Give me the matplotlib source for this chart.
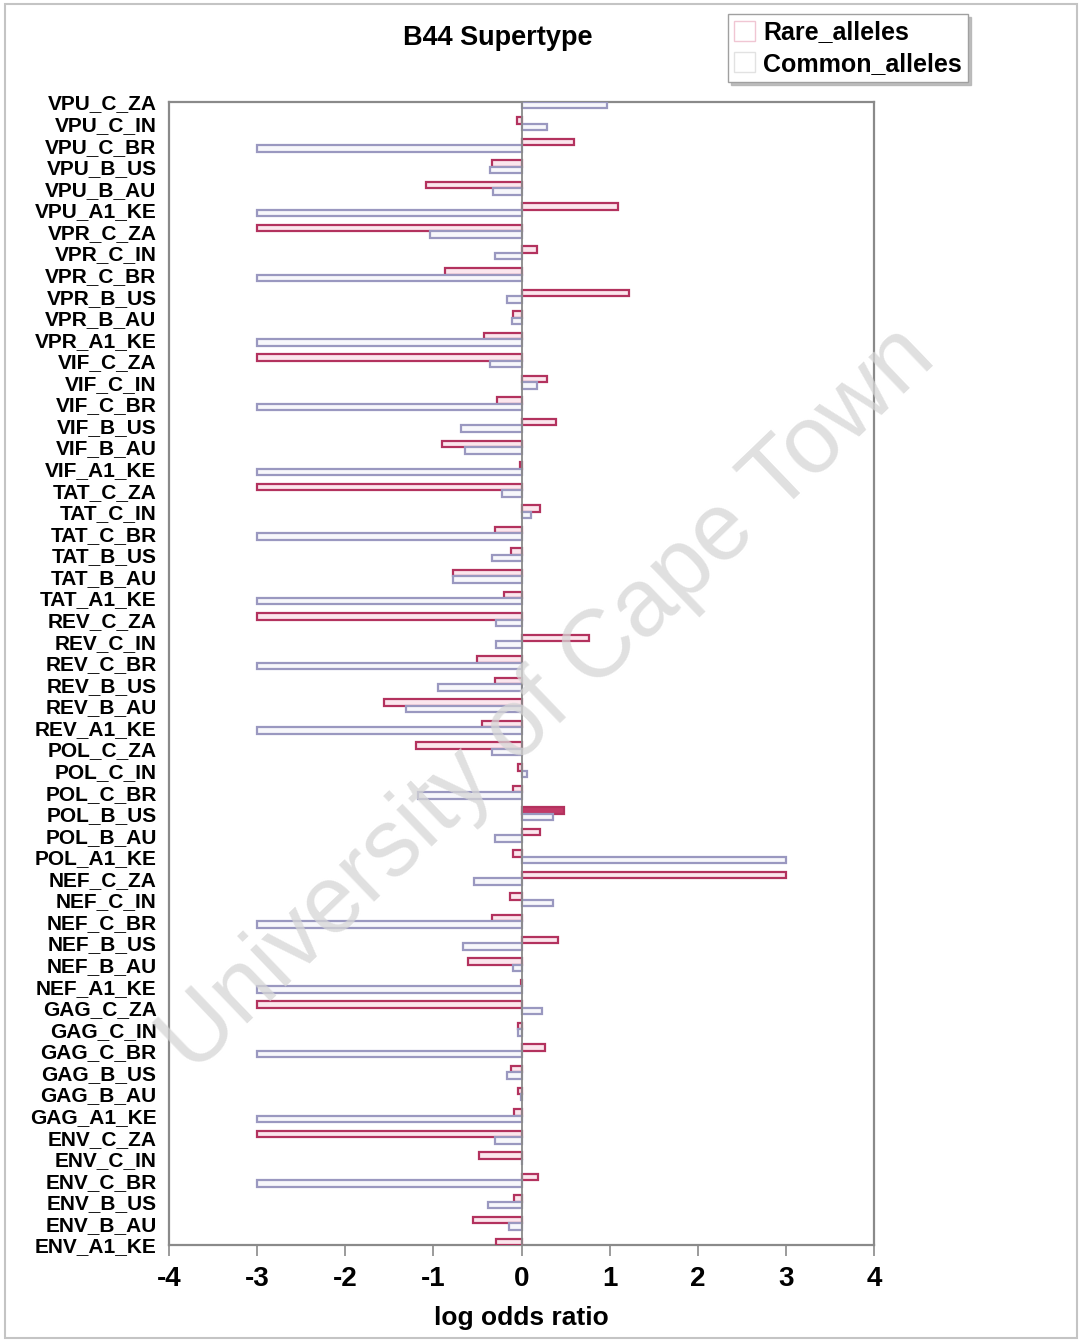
import matplotlib
matplotlib.use("Agg")
import matplotlib.pyplot as plt
from matplotlib.patches import Patch, Rectangle
import numpy as np

plt.rcParams['font.family'] = ['Liberation Sans', 'DejaVu Sans']
plt.rcParams['font.weight'] = 'bold'

categories = [
    "VPU_C_ZA", "VPU_C_IN", "VPU_C_BR", "VPU_B_US", "VPU_B_AU", "VPU_A1_KE",
    "VPR_C_ZA", "VPR_C_IN", "VPR_C_BR", "VPR_B_US", "VPR_B_AU", "VPR_A1_KE",
    "VIF_C_ZA", "VIF_C_IN", "VIF_C_BR", "VIF_B_US", "VIF_B_AU", "VIF_A1_KE",
    "TAT_C_ZA", "TAT_C_IN", "TAT_C_BR", "TAT_B_US", "TAT_B_AU", "TAT_A1_KE",
    "REV_C_ZA", "REV_C_IN", "REV_C_BR", "REV_B_US", "REV_B_AU", "REV_A1_KE",
    "POL_C_ZA", "POL_C_IN", "POL_C_BR", "POL_B_US", "POL_B_AU", "POL_A1_KE",
    "NEF_C_ZA", "NEF_C_IN", "NEF_C_BR", "NEF_B_US", "NEF_B_AU", "NEF_A1_KE",
    "GAG_C_ZA", "GAG_C_IN", "GAG_C_BR", "GAG_B_US", "GAG_B_AU", "GAG_A1_KE",
    "ENV_C_ZA", "ENV_C_IN", "ENV_C_BR", "ENV_B_US", "ENV_B_AU", "ENV_A1_KE",
]

rare_alleles = [
    0.00, -0.05, 0.60, -0.34, -1.08, 1.10,
    -3.00, 0.18, -0.87, 1.22, -0.10, -0.43,
    -3.00, 0.29, -0.28, 0.39, -0.90, -0.02,
    -3.00, 0.21, -0.30, -0.12, -0.78, -0.20,
    -3.00, 0.76, -0.51, -0.30, -1.56, -0.45,
    -1.20, -0.04, -0.10, 0.48, 0.21, -0.10,
    3.00, -0.13, -0.33, 0.41, -0.61, -0.01,
    -3.00, -0.04, 0.27, -0.12, -0.04, -0.08,
    -3.00, -0.48, 0.19, -0.08, -0.55, -0.29,
]

common_alleles = [
    0.97, 0.29, -3.00, -0.36, -0.32, -3.00,
    -1.04, -0.30, -3.00, -0.17, -0.11, -3.00,
    -0.36, 0.17, -3.00, -0.69, -0.64, -3.00,
    -0.22, 0.11, -3.00, -0.33, -0.78, -3.00,
    -0.29, -0.29, -3.00, -0.95, -1.31, -3.00,
    -0.34, 0.06, -1.17, 0.36, -0.30, 3.00,
    -0.54, 0.36, -3.00, -0.66, -0.10, -3.00,
    0.23, -0.04, -3.00, -0.16, -0.01, -3.00,
    -0.30, 0.00, -3.00, -0.38, -0.14, 0.00,
]

# Rare-allele bar drawn solid (highlighted)
highlighted = ["POL_B_US"]

x_ticks = [-4, -3, -2, -1, 0, 1, 2, 3, 4]

RARE_EDGE = "#b3325e"
RARE_FILL = "#fbe6ed"
RARE_SOLID = "#c23a68"
COMMON_EDGE = "#9a98c0"
COMMON_FILL = "#f7f7fb"
GRID_GREY = "#8a8a8a"

fig = plt.figure(figsize=(10.8, 13.42), dpi=100)
ax = fig.add_axes([0.1565, 0.0723, 0.8093 - 0.1565, 0.9240 - 0.0723])

pos = np.arange(len(categories))
bar_h = 0.30

rare_face = [RARE_SOLID if c in highlighted else RARE_FILL for c in categories]
ax.barh(pos - bar_h, rare_alleles, height=bar_h, align='edge',
        color=rare_face, edgecolor=RARE_EDGE, linewidth=1.6, zorder=3)
ax.barh(pos, common_alleles, height=bar_h, align='edge',
        color=COMMON_FILL, edgecolor=COMMON_EDGE, linewidth=1.6, zorder=3)

ax.axvline(0, color=GRID_GREY, linewidth=1.3, zorder=4)

ax.set_xlim(-4, 4)
ax.set_ylim(len(categories) - 1, 0)
ax.set_xticks(x_ticks)
ax.set_xticklabels([str(t) for t in x_ticks], fontsize=20, fontweight='bold')
ax.set_yticks(pos)
ax.set_yticklabels(categories, fontsize=15, fontweight='bold')
ax.tick_params(axis='x', direction='out', length=8, width=1.2, color=GRID_GREY, pad=7)
ax.tick_params(axis='y', direction='out', length=0, pad=9)
for s in ax.spines.values():
    s.set_color(GRID_GREY)
    s.set_linewidth(1.6)

ax.set_xlabel("log odds ratio", fontsize=19, fontweight='bold', labelpad=10)

fig.text(0.461, 0.972, "B44 Supertype", ha='center', va='center',
         fontsize=19.5, fontweight='bold')

handles = [
    Patch(facecolor='white', edgecolor='#f0c6d3', linewidth=1.0, label='Rare_alleles'),
    Patch(facecolor='white', edgecolor='#e2e2e2', linewidth=1.0, label='Common_alleles'),
]
leg = fig.legend(handles=handles, loc='upper left', bbox_to_anchor=(0.674, 0.9896),
                 prop={'size': 18, 'weight': 'bold'}, frameon=True, fancybox=False,
                 shadow={'color': '#b0b0b0', 'alpha': 0.8}, handlelength=0.85,
                 handleheight=0.85, handletextpad=0.3, borderpad=0.25,
                 labelspacing=0.3, borderaxespad=0)
leg.get_frame().set_edgecolor('#a0a0a0')
leg.get_frame().set_linewidth(1.0)

# Watermark
fig.text(0.508, 0.478, "University of Cape Town", ha='center', va='center',
         rotation=43.8, fontsize=69, fontweight='normal', color='#d6d6d6',
         alpha=0.75, zorder=10)

# Outer frame
fig.patches.append(Rectangle((5 / 1080, 1 - 1338 / 1342), (1077 - 5) / 1080, (1338 - 4) / 1342,
                             transform=fig.transFigure, fill=False,
                             edgecolor='#c4c4c4', linewidth=1.5))

fig.savefig("out.png", dpi=100)
